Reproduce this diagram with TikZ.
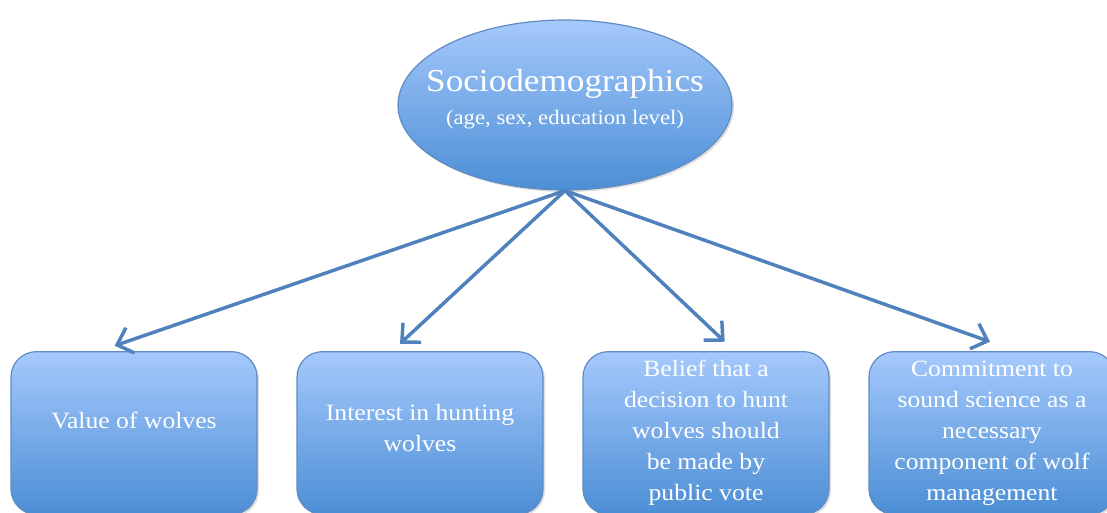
\documentclass[tikz,border=0pt]{standalone}
\usepackage{fontspec}
\setmainfont[FakeStretch=1.1]{Liberation Serif}
\usetikzlibrary{shapes.geometric,arrows.meta,shadows}

\definecolor{lineblue}{RGB}{79,129,189}
\definecolor{filltop}{RGB}{165,201,252}
\definecolor{fillbot}{RGB}{76,142,213}
\definecolor{edgeblue}{RGB}{96,140,194}

\tikzset{every picture/.style={line width=0.75pt}}
\tikzset{
  bluefill/.style={draw=edgeblue, line width=0.9pt, top color=filltop, bottom color=fillbot,
    drop shadow={opacity=0.25, shadow xshift=1.5pt, shadow yshift=-1.5pt}},
  factorbox/.style={bluefill, rounded corners=19pt, minimum width=184.5pt, minimum height=122pt,
    inner sep=2pt, align=center, text=white, font=\fontsize{17.5}{23.3}\selectfont},
  linkarrow/.style={draw=lineblue, line width=2.6pt,
    -{Straight Barb[length=10.5pt, width=20pt, line width=2.6pt]}},
}

\begin{document}
\begin{tikzpicture}[x=0.75pt,y=0.75pt,yscale=-1,xscale=1]
  \clip (0,0) rectangle (1107,512);
  \useasboundingbox (0,0) rectangle (1107,512);

  % Ellipse
  \node [bluefill, ellipse, minimum width=250.5pt, minimum height=127.5pt, inner sep=0pt] (sd) at (565,105) {};
  % Text Node
  \node [text=white, align=center, inner sep=0pt] (sdtext) at (565,99)
    {\fontsize{24}{30}\selectfont Sociodemographics\\[8pt]
     \fontsize{15.5}{18}\selectfont (age, sex, education level)};

  % Boxes
  \node [factorbox] (val) at (134,433) {\raisebox{19pt}{Value of wolves}};
  \node [factorbox] (hunt) at (420,433) {\raisebox{8pt}{\shortstack{Interest in hunting\\[4pt]wolves}}};
  \node [factorbox] (vote) at (706,433) {Belief that a\\decision to hunt\\wolves should\\be made by\\public vote};
  \node [factorbox] (sci) at (992,433) {Commitment to\\sound science as a\\necessary\\component of wolf\\management};

  % Arrows
  \draw [linkarrow] (sd.south) -- ([xshift=-14.5pt, yshift=-4pt]val.north);
  \draw [linkarrow] (sd.south) -- ([xshift=-15pt, yshift=-5.5pt]hunt.north);
  \draw [linkarrow] (sd.south) -- ([xshift=14pt, yshift=-7pt]vote.north);
  \draw [linkarrow] (sd.south) -- ([xshift=-1.5pt, yshift=-7pt]sci.north);

\end{tikzpicture}
\end{document}
